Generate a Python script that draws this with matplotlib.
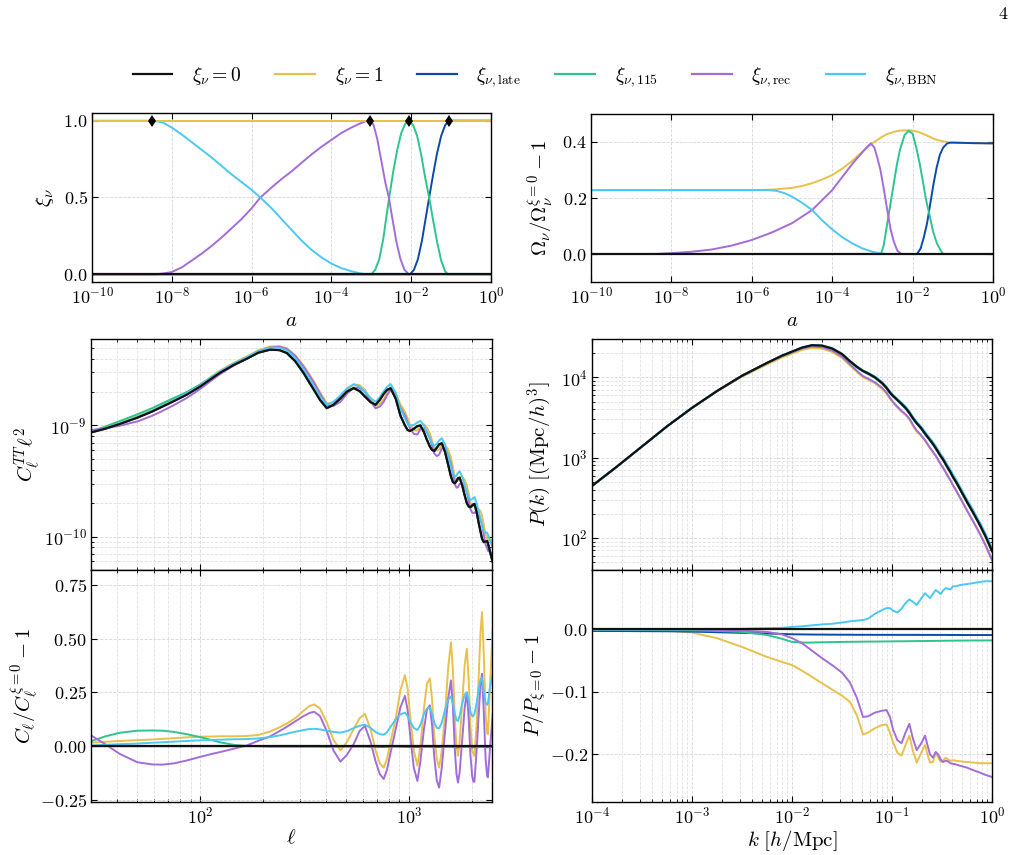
import matplotlib
matplotlib.use('Agg')
import matplotlib.pyplot as plt
import matplotlib.ticker as mticker
import numpy as np

plt.rcParams['font.family'] = 'serif'
plt.rcParams['font.serif'] = ['cmr10']
plt.rcParams['mathtext.fontset'] = 'cm'
plt.rcParams['axes.formatter.use_mathtext'] = True
plt.rcParams['font.size'] = 13
plt.rcParams['axes.unicode_minus'] = True

# colours of the six models
c_0 = '#111111'
c_1 = '#E8C14A'
c_late = '#0B4AA8'
c_115 = '#2EC48C'
c_rec = '#A36CDB'
c_bbn = '#4CC8F5'

# ---------- top left: xi_nu(a), x given as log10(a) ----------
tl_std_x = [-10, 0]
tl_xi0 = [0, 0]
tl_xi1 = [1, 1]
tl_late_x = [-10, -2.03, -1.93, -1.83, -1.73, -1.64, -1.55, -1.45, -1.35, -1.25, -1.15, -1.06, 0]
tl_late_y = [0, 0, 0.03, 0.10, 0.22, 0.36, 0.5, 0.65, 0.79, 0.9, 0.97, 1.0, 1.0]
tl_115_x = [-10, -3.0, -2.9, -2.8, -2.7, -2.62, -2.54, -2.45, -2.35, -2.25, -2.15, -2.05,
            -1.95, -1.85, -1.75, -1.65, -1.55, -1.45, -1.35, -1.25, -1.15, -1.08, 0]
tl_115_y = [0, 0, 0.03, 0.10, 0.23, 0.38, 0.52, 0.67, 0.81, 0.92, 0.98, 1.0,
            0.97, 0.9, 0.78, 0.63, 0.5, 0.35, 0.21, 0.09, 0.02, 0, 0]
tl_rec_x = [-10, -8.4, -8.2, -8.0, -7.75, -7.5, -7.25, -7.0, -6.75, -6.5, -6.25, -6.0, -5.78,
            -5.5, -5.25, -5.0, -4.75, -4.5, -4.25, -4.0, -3.75, -3.5, -3.3, -3.15, -3.02,
            -2.94, -2.85, -2.75, -2.65, -2.56, -2.47, -2.37, -2.27, -2.17, -2.06, 0]
tl_rec_y = [0, 0, 0.006, 0.015, 0.045, 0.09, 0.135, 0.185, 0.24, 0.3, 0.36, 0.43, 0.5,
            0.565, 0.62, 0.67, 0.725, 0.78, 0.83, 0.875, 0.92, 0.955, 0.98, 0.995, 1.0,
            0.97, 0.88, 0.74, 0.6, 0.5, 0.36, 0.21, 0.1, 0.03, 0, 0]
tl_bbn_x = [-10, -8.5, -8.35, -8.2, -8.0, -7.75, -7.5, -7.25, -7.0, -6.75, -6.5, -6.25, -6.0,
            -5.78, -5.5, -5.25, -5.0, -4.75, -4.5, -4.25, -4.0, -3.75, -3.5, -3.3, -3.1, 0]
tl_bbn_y = [1, 1, 0.995, 0.985, 0.955, 0.91, 0.86, 0.81, 0.76, 0.705, 0.65, 0.6, 0.55,
            0.5, 0.43, 0.36, 0.29, 0.22, 0.16, 0.11, 0.07, 0.04, 0.02, 0.007, 0, 0]
tl_marker_x = [-8.5, -3.03, -2.05, -1.06]

# ---------- top right: Omega_nu / Omega_nu^(xi=0) - 1 ----------
tr_xi1_x = [-10, -6, -5.5, -5, -4.75, -4.5, -4.25, -4, -3.75, -3.5, -3.25, -3.0, -2.8, -2.64,
            -2.45, -2.3, -2.07, -1.9, -1.75, -1.58, -1.45, -1.3, -1.08, -0.5, 0]
tr_xi1_y = [0.228, 0.228, 0.23, 0.236, 0.243, 0.253, 0.266, 0.282, 0.305, 0.333, 0.365, 0.395,
            0.415, 0.428, 0.437, 0.441, 0.442, 0.438, 0.43, 0.419, 0.41, 0.404, 0.398, 0.396, 0.395]
tr_rec_x = [-10, -8.4, -8.0, -7.5, -7.0, -6.5, -6.0, -5.5, -5.0, -4.5, -4.0, -3.75, -3.5, -3.3,
            -3.15, -3.04, -2.95, -2.87, -2.8, -2.72, -2.64, -2.55, -2.47, -2.38, -2.28, 0]
tr_rec_y = [0, 0, 0.003, 0.008, 0.016, 0.03, 0.05, 0.077, 0.11, 0.157, 0.228, 0.275, 0.322, 0.355,
            0.38, 0.395, 0.38, 0.34, 0.30, 0.235, 0.165, 0.09, 0.045, 0.012, 0, 0]
tr_bbn_x = [-10, -5.6, -5.4, -5.2, -5.0, -4.75, -4.5, -4.25, -4.0, -3.75, -3.5, -3.25, -3.0, -2.8, -2.64, 0]
tr_bbn_y = [0.228, 0.228, 0.226, 0.218, 0.205, 0.183, 0.157, 0.12, 0.088, 0.06, 0.038, 0.02,
            0.008, 0.002, 0, 0]
tr_115_x = [-10, -2.79, -2.72, -2.64, -2.55, -2.47, -2.39, -2.31, -2.2, -2.1, -2.0, -1.9, -1.82,
            -1.74, -1.66, -1.58, -1.49, -1.4, -1.3, -1.24, 0]
tr_115_y = [0, 0, 0.03, 0.1, 0.18, 0.25, 0.32, 0.375, 0.425, 0.44, 0.43, 0.375, 0.32,
            0.255, 0.19, 0.14, 0.08, 0.04, 0.012, 0, 0]
tr_late_x = [-10, -1.89, -1.8, -1.72, -1.64, -1.56, -1.48, -1.4, -1.32, -1.24, -1.14, -1.05, -0.5, 0]
tr_late_y = [0, 0, 0.02, 0.06, 0.11, 0.18, 0.25, 0.31, 0.355, 0.38, 0.395, 0.398, 0.396, 0.395]

# ---------- CMB TT spectrum ----------
ell = [30, 35, 41, 50, 59, 66, 75, 86, 100, 115,
       124, 145, 167, 190, 216, 240, 260, 285, 313, 335,
       352, 375, 404, 435, 470, 505, 544, 580, 616, 655,
       692, 725, 757, 785, 817, 865, 910, 957, 985, 1012,
       1055, 1098, 1135, 1180, 1220, 1260, 1290, 1322, 1360, 1395,
       1437, 1490, 1540, 1590, 1625, 1660, 1690, 1718, 1750, 1800,
       1850, 1895, 1935, 1970, 2010, 2035, 2060, 2110, 2160, 2200,
       2240, 2285, 2330, 2370, 2390, 2450, 2520]
log_cl0 = [-9.063, -9.03, -8.988, -8.93, -8.874, -8.83, -8.78, -8.724, -8.65, -8.57,
           -8.528, -8.455, -8.40, -8.345, -8.318, -8.322, -8.348, -8.42, -8.528, -8.62,
           -8.685, -8.77, -8.844, -8.815, -8.755, -8.695, -8.664, -8.69, -8.74, -8.79,
           -8.814, -8.77, -8.715, -8.68, -8.665, -8.76, -8.91, -9.0, -9.04, -9.05,
           -9.03, -9.005, -9.0, -9.06, -9.13, -9.19, -9.22, -9.23, -9.2, -9.17,
           -9.16, -9.24, -9.35, -9.46, -9.51, -9.52, -9.5, -9.475, -9.47, -9.54,
           -9.63, -9.7, -9.73, -9.735, -9.72, -9.71, -9.705, -9.78, -9.88, -9.95,
           -10.02, -10.05, -10.045, -10.04, -10.06, -10.14, -10.23]
rcl_xi1 = [0.016, 0.02, 0.024, 0.028, 0.031, 0.034, 0.037, 0.041, 0.044, 0.045,
           0.046, 0.046, 0.047, 0.052, 0.068, 0.088, 0.105, 0.13, 0.165, 0.188,
           0.194, 0.175, 0.11, 0.03, -0.02, 0.02, 0.08, 0.13, 0.15, 0.08,
           -0.02, -0.08, -0.1, -0.06, 0.02, 0.13, 0.26, 0.33, 0.27, 0.15,
           -0.02, -0.09, 0.0, 0.175, 0.29, 0.315, 0.22, 0.05, -0.06, -0.1,
           -0.02, 0.15, 0.36, 0.484, 0.35, 0.12, 0.0, -0.045, 0.02, 0.2,
           0.38, 0.453, 0.3, 0.1, -0.02, -0.035, -0.045, 0.1, 0.33, 0.52,
           0.624, 0.42, 0.15, 0.06, 0.056, 0.3, 0.546]
rcl_rec = [0.05, 0.01, -0.035, -0.075, -0.085, -0.086, -0.08, -0.067, -0.05, -0.035,
           -0.028, -0.012, 0.003, 0.025, 0.045, 0.07, 0.09, 0.115, 0.14, 0.155,
           0.16, 0.14, 0.07, -0.02, -0.072, -0.04, 0.01, 0.07, 0.094, 0.02,
           -0.07, -0.13, -0.153, -0.11, -0.03, 0.08, 0.18, 0.234, 0.17, 0.06,
           -0.1, -0.162, -0.07, 0.08, 0.17, 0.19, 0.1, -0.05, -0.16, -0.193,
           -0.1, 0.07, 0.22, 0.306, 0.18, -0.02, -0.13, -0.17, -0.12, 0.03,
           0.18, 0.25, 0.12, -0.04, -0.14, -0.165, -0.165, -0.02, 0.15, 0.28,
           0.337, 0.15, -0.06, -0.14, -0.145, 0.0, 0.15]
rcl_bbn = [0.003, 0.006, 0.009, 0.012, 0.016, 0.018, 0.021, 0.024, 0.027, 0.029,
           0.03, 0.032, 0.033, 0.036, 0.042, 0.05, 0.058, 0.067, 0.075, 0.08,
           0.081, 0.078, 0.072, 0.066, 0.063, 0.07, 0.084, 0.095, 0.1, 0.085,
           0.066, 0.056, 0.053, 0.065, 0.09, 0.125, 0.148, 0.156, 0.14, 0.115,
           0.085, 0.075, 0.1, 0.15, 0.175, 0.18, 0.15, 0.11, 0.085, 0.083,
           0.11, 0.17, 0.215, 0.231, 0.2, 0.15, 0.12, 0.118, 0.14, 0.2,
           0.24, 0.25, 0.21, 0.16, 0.14, 0.14, 0.15, 0.2, 0.27, 0.31,
           0.317, 0.25, 0.2, 0.192, 0.2, 0.28, 0.337]
rcl_115 = [0.023, 0.045, 0.062, 0.072, 0.073, 0.072, 0.066, 0.056, 0.042, 0.027,
           0.018, 0.006, 0.001, 0.0, -0.001, -0.001, -0.001, -0.001, -0.001, -0.001,
           -0.001, -0.001, -0.001, -0.001, -0.001, -0.001, -0.001, -0.001, -0.001, -0.001,
           -0.001, -0.001, -0.002, -0.001, -0.001, -0.001, -0.001, -0.002, -0.001, -0.001,
           -0.002, -0.002, -0.002, -0.002, -0.002, -0.002, -0.002, -0.002, -0.002, -0.002,
           -0.002, -0.002, -0.002, -0.002, -0.002, -0.002, -0.002, -0.002, -0.002, -0.002,
           -0.002, -0.002, -0.002, -0.002, -0.002, -0.002, -0.002, -0.002, -0.002, -0.002,
           -0.002, -0.002, -0.002, -0.002, -0.002, -0.002, -0.002]
rcl_late = [0.0, 0.0, 0.0, 0.0, 0.0, 0.0, 0.0, 0.0, 0.0, 0.0,
            0.0, 0.0, 0.0, 0.0, -0.001, -0.001, -0.001, -0.001, -0.001, -0.001,
            -0.001, -0.001, -0.002, -0.001, -0.001, -0.001, -0.001, -0.001, -0.001, -0.002,
            -0.002, -0.003, -0.003, -0.002, -0.001, -0.001, -0.002, -0.002, -0.003, -0.003,
            -0.004, -0.004, -0.003, -0.002, -0.002, -0.002, -0.003, -0.004, -0.004, -0.004,
            -0.003, -0.002, -0.002, -0.002, -0.003, -0.004, -0.005, -0.005, -0.004, -0.003,
            -0.002, -0.002, -0.003, -0.004, -0.005, -0.005, -0.005, -0.004, -0.003, -0.002,
            -0.002, -0.003, -0.004, -0.005, -0.005, -0.004, -0.003]

# ---------- matter power spectrum ----------
log_k = [-4, -3.75, -3.5, -3.25, -3.0, -2.75, -2.5, -2.25, -2.1, -2.0,
         -1.9, -1.8, -1.7, -1.6, -1.5, -1.42, -1.35, -1.29, -1.24, -1.17,
         -1.1, -1.055, -1.02, -0.99, -0.947, -0.905, -0.865, -0.827, -0.79, -0.753,
         -0.71, -0.67, -0.645, -0.62, -0.59, -0.563, -0.538, -0.513, -0.49, -0.463,
         -0.44, -0.415, -0.39, -0.36, -0.32, -0.25, -0.19, -0.12, -0.06, 0]
log_pk0 = [2.649, 2.89, 3.14, 3.39, 3.62, 3.83, 4.02, 4.18, 4.27, 4.32,
           4.37, 4.40, 4.395, 4.36, 4.29, 4.2, 4.13, 4.08, 4.05, 4.0,
           3.93, 3.87, 3.81, 3.77, 3.72, 3.67, 3.62, 3.56, 3.49, 3.43,
           3.37, 3.3, 3.26, 3.22, 3.17, 3.12, 3.07, 3.02, 2.98, 2.92,
           2.87, 2.82, 2.76, 2.7, 2.61, 2.45, 2.32, 2.16, 2.01, 1.84]
rpk_xi1 = [0, -0.0005, -0.001, -0.002, -0.005, -0.014, -0.028, -0.044, -0.052, -0.057,
           -0.066, -0.076, -0.086, -0.096, -0.106, -0.116, -0.138, -0.168, -0.165, -0.158,
           -0.153, -0.152, -0.165, -0.18, -0.197, -0.202, -0.185, -0.17, -0.195, -0.213,
           -0.198, -0.185, -0.2, -0.213, -0.212, -0.197, -0.205, -0.212, -0.21, -0.205,
           -0.208, -0.21, -0.209, -0.21, -0.211, -0.212, -0.213, -0.214, -0.214, -0.214]
rpk_rec = [0, 0, 0, 0, 0, -0.001, -0.002, -0.004, -0.008, -0.014,
           -0.022, -0.034, -0.046, -0.057, -0.069, -0.085, -0.11, -0.14, -0.139, -0.133,
           -0.13, -0.129, -0.14, -0.16, -0.177, -0.182, -0.165, -0.151, -0.175, -0.193,
           -0.183, -0.17, -0.185, -0.2, -0.205, -0.196, -0.2, -0.208, -0.212, -0.21,
           -0.211, -0.214, -0.215, -0.216, -0.218, -0.221, -0.225, -0.229, -0.233, -0.236]
rpk_bbn = [0, 0, 0, 0, 0, 0.0003, 0.001, 0.002, 0.0025, 0.004,
           0.005, 0.0065, 0.008, 0.009, 0.011, 0.013, 0.014, 0.015, 0.017, 0.025,
           0.031, 0.034, 0.034, 0.03, 0.027, 0.033, 0.042, 0.048, 0.044, 0.039,
           0.049, 0.058, 0.054, 0.05, 0.057, 0.063, 0.06, 0.0565, 0.062, 0.066,
           0.065, 0.064, 0.069, 0.069, 0.071, 0.0725, 0.074, 0.076, 0.077, 0.077]
rpk_115 = [-0.001, -0.001, -0.001, -0.0012, -0.0015, -0.0025, -0.004, -0.009, -0.015, -0.02,
           -0.021, -0.021, -0.0205, -0.0203, -0.02, -0.0198, -0.0197, -0.0196, -0.0195, -0.0194,
           -0.0193, -0.0192, -0.0192, -0.0191, -0.019, -0.019, -0.0189, -0.0188, -0.0188, -0.0187,
           -0.0186, -0.0186, -0.0185, -0.0185, -0.0184, -0.0183, -0.0183, -0.0182, -0.0182, -0.0181,
           -0.0181, -0.018, -0.018, -0.0179, -0.0179, -0.0178, -0.0177, -0.0177, -0.0176, -0.0176]
rpk_late = [-0.0025, -0.0026, -0.0028, -0.003, -0.0035, -0.0045, -0.0055, -0.0065, -0.0072, -0.0078,
            -0.008, -0.0082, -0.0083, -0.0084, -0.0085, -0.0085, -0.0086, -0.0086, -0.0086, -0.0087,
            -0.0087, -0.0087, -0.0087, -0.0087, -0.0087, -0.0087, -0.0087, -0.0087, -0.0087, -0.0087,
            -0.0088, -0.0088, -0.0088, -0.0088, -0.0088, -0.0088, -0.0088, -0.0088, -0.0088, -0.0088,
            -0.0089, -0.0089, -0.0089, -0.0089, -0.0089, -0.009, -0.009, -0.009, -0.009, -0.009]

labels = [r'$\xi_\nu=0$', r'$\xi_\nu=1$', r'$\xi_{\nu,\mathrm{late}}$',
          r'$\xi_{\nu,115}$', r'$\xi_{\nu,\mathrm{rec}}$', r'$\xi_{\nu,\mathrm{BBN}}$']
colors = [c_0, c_1, c_late, c_115, c_rec, c_bbn]

W, H = 1020, 855
fig = plt.figure(figsize=(W / 100, H / 100), dpi=100)
TICK = 13
LAB = 15


def px_axes(l, t, r, b):
    return fig.add_axes([l / W, 1 - b / H, (r - l) / W, (b - t) / H])


def style(ax, minor_grid=False):
    ax.tick_params(which='both', direction='in', top=True, right=True)
    ax.tick_params(which='major', length=4.5, width=0.8, labelsize=TICK, pad=3)
    ax.tick_params(which='minor', length=2.5, width=0.6)
    ax.grid(True, which='major', ls='--', lw=0.6, color='#d6d6d6')
    if minor_grid:
        ax.grid(True, which='minor', ls='--', lw=0.6, color='#e0e0e0')
    ax.set_axisbelow(True)
    for s in ax.spines.values():
        s.set_linewidth(1.0)


lw = 1.4
e = lambda v: 10.0 ** np.array(v)

# ----- top left -----
ax1 = px_axes(92, 113, 491, 282)
ax1.plot(e(tl_late_x), tl_late_y, color=c_late, lw=lw)
ax1.plot(e(tl_115_x), tl_115_y, color=c_115, lw=lw)
ax1.plot(e(tl_rec_x), tl_rec_y, color=c_rec, lw=lw)
ax1.plot(e(tl_bbn_x), tl_bbn_y, color=c_bbn, lw=lw)
ax1.plot(e(tl_std_x), tl_xi1, color=c_1, lw=lw)
ax1.plot(e(tl_std_x), tl_xi0, color=c_0, lw=lw + 0.2)
ax1.plot(e(tl_marker_x), [1] * len(tl_marker_x), ls='none', marker='d', ms=6.5, mew=0,
         color='k', zorder=5)
ax1.set_xscale('log')
ax1.set_xlim(1e-10, 1)
ax1.set_ylim(-0.05, 1.05)
ax1.xaxis.set_major_locator(mticker.FixedLocator(10.0 ** np.arange(-10, 1, 2)))
ax1.xaxis.set_minor_locator(mticker.NullLocator())
ax1.yaxis.set_major_locator(mticker.FixedLocator([0, 0.5, 1.0]))
ax1.set_xlabel(r'$a$', fontsize=LAB)
ax1.set_ylabel(r'$\xi_\nu$', fontsize=LAB)
ax1.yaxis.set_label_coords(-0.09, 0.5)
style(ax1)

# ----- top right -----
ax2 = px_axes(591, 114, 993, 282)
ax2.plot(e(tr_xi1_x), tr_xi1_y, color=c_1, lw=lw)
ax2.plot(e(tr_late_x), tr_late_y, color=c_late, lw=lw)
ax2.plot(e(tr_115_x), tr_115_y, color=c_115, lw=lw)
ax2.plot(e(tr_rec_x), tr_rec_y, color=c_rec, lw=lw)
ax2.plot(e(tr_bbn_x), tr_bbn_y, color=c_bbn, lw=lw)
ax2.plot(e(tl_std_x), tl_xi0, color=c_0, lw=lw + 0.2)
ax2.set_xscale('log')
ax2.set_xlim(1e-10, 1)
ax2.set_ylim(-0.1, 0.5)
ax2.xaxis.set_major_locator(mticker.FixedLocator(10.0 ** np.arange(-10, 1, 2)))
ax2.xaxis.set_minor_locator(mticker.NullLocator())
ax2.yaxis.set_major_locator(mticker.FixedLocator([0, 0.2, 0.4]))
ax2.set_xlabel(r'$a$', fontsize=LAB)
ax2.set_ylabel(r'$\Omega_\nu/\Omega_\nu^{\xi=0}-1$', fontsize=LAB)
ax2.yaxis.set_label_coords(-0.088, 0.5)
style(ax2)

# ----- CMB -----
cl0 = 10.0 ** np.array(log_cl0)
cl_ratios = [rcl_xi1, rcl_late, rcl_115, rcl_rec, rcl_bbn]
cl_cols = [c_1, c_late, c_115, c_rec, c_bbn]

ax3 = px_axes(91, 339, 492, 570)
ax4 = px_axes(91, 570, 492, 802)
for r, c in zip(cl_ratios, cl_cols):
    ax3.plot(ell, cl0 * (1 + np.array(r)), color=c, lw=lw)
    ax4.plot(ell, r, color=c, lw=lw)
ax3.plot(ell, cl0, color=c_0, lw=lw + 0.2)
ax4.plot(ell, np.zeros(len(ell)), color=c_0, lw=lw + 0.2)
for ax in (ax3, ax4):
    ax.set_xscale('log')
    ax.set_xlim(30, 2500)
    ax.xaxis.set_minor_locator(mticker.LogLocator(subs=np.arange(2, 10), numticks=100))
    ax.xaxis.set_minor_formatter(mticker.NullFormatter())
ax3.set_yscale('log')
ax3.set_ylim(5e-11, 6e-9)
ax3.yaxis.set_minor_locator(mticker.LogLocator(subs=np.arange(2, 10), numticks=100))
ax3.yaxis.set_minor_formatter(mticker.NullFormatter())
ax3.tick_params(labelbottom=False)
ax3.set_ylabel(r'$C_\ell^{TT}\ell^2$', fontsize=LAB)
ax3.yaxis.set_label_coords(-0.12, 0.5)
ax4.set_ylim(-0.26, 0.82)
ax4.yaxis.set_major_locator(mticker.FixedLocator([-0.25, 0, 0.25, 0.5, 0.75]))
ax4.set_xlabel(r'$\ell$', fontsize=LAB, labelpad=1)
ax4.set_ylabel(r'$C_\ell/C_\ell^{\xi=0}-1$', fontsize=LAB)
ax4.yaxis.set_label_coords(-0.125, 0.5)
style(ax3, True)
style(ax4, True)
ax4.grid(False, which='minor', axis='y')

# ----- matter power -----
k = 10.0 ** np.array(log_k)
pk0 = 10.0 ** np.array(log_pk0)
pk_ratios = [rpk_xi1, rpk_late, rpk_115, rpk_rec, rpk_bbn]

ax5 = px_axes(592, 339, 992, 570)
ax6 = px_axes(592, 570, 992, 802)
for r, c in zip(pk_ratios, cl_cols):
    ax5.plot(k, pk0 * (1 + np.array(r)), color=c, lw=lw)
    ax6.plot(k, r, color=c, lw=lw)
ax5.plot(k, pk0, color=c_0, lw=lw + 0.2)
ax6.plot(k, np.zeros(len(k)), color=c_0, lw=lw + 0.2)
for ax in (ax5, ax6):
    ax.set_xscale('log')
    ax.set_xlim(1e-4, 1)
    ax.xaxis.set_major_locator(mticker.LogLocator(numticks=20))
    ax.xaxis.set_minor_locator(mticker.LogLocator(subs=np.arange(2, 10), numticks=100))
    ax.xaxis.set_minor_formatter(mticker.NullFormatter())
ax5.set_yscale('log')
ax5.set_ylim(40, 3e4)
ax5.yaxis.set_minor_locator(mticker.LogLocator(subs=np.arange(2, 10), numticks=100))
ax5.yaxis.set_minor_formatter(mticker.NullFormatter())
ax5.tick_params(labelbottom=False)
ax5.set_ylabel(r'$P(k)\ [(\mathrm{Mpc}/h)^3]$', fontsize=LAB)
ax5.yaxis.set_label_coords(-0.095, 0.5)
ax6.set_ylim(-0.276, 0.095)
ax6.yaxis.set_major_locator(mticker.FixedLocator([-0.2, -0.1, 0.0]))
ax6.set_xlabel(r'$k\ [h/\mathrm{Mpc}]$', fontsize=LAB, labelpad=1)
ax6.set_ylabel(r'$P/P_{\xi=0}-1$', fontsize=LAB)
ax6.yaxis.set_label_coords(-0.11, 0.5)
style(ax5, True)
style(ax6, True)
ax6.grid(False, which='minor', axis='y')

# ----- legend -----
handles = [plt.Line2D([], [], color=c, lw=1.6) for c in colors]
fig.legend(handles, labels, loc='center', bbox_to_anchor=(535 / W, 1 - 77 / H), ncol=6,
           frameon=False, handlelength=2.05, handletextpad=1.0, columnspacing=1.75, fontsize=14)

fig.text(1003 / W, 1 - 14 / H, '4', ha='center', va='center', fontsize=13)

fig.savefig('out.png', dpi=100)
